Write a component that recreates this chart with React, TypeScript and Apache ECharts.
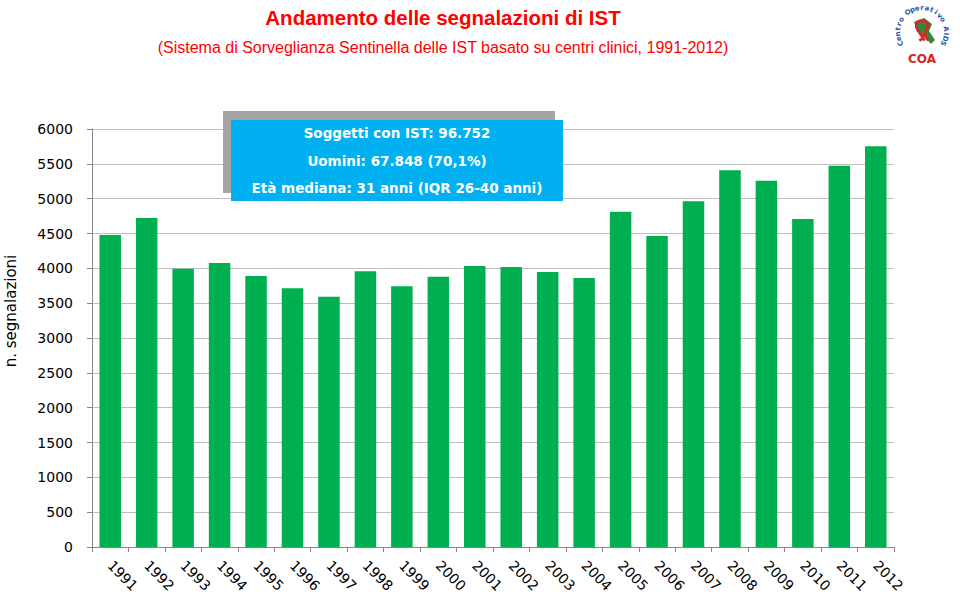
import React, { useEffect, useRef } from "react";
import * as echarts from "echarts";

const years = ["1991","1992","1993","1994","1995","1996","1997","1998","1999","2000","2001","2002","2003","2004","2005","2006","2007","2008","2009","2010","2011","2012"];
const reports = [4480, 4722, 3995, 4076, 3890, 3713, 3593, 3957, 3742, 3880, 4033, 4019, 3947, 3861, 4813, 4464, 4962, 5407, 5258, 4708, 5473, 5751];
const yTicks = { min: 0, max: 6000, interval: 500 };
const titleText = "Andamento delle segnalazioni di IST";
const subtitleText = "(Sistema di Sorveglianza Sentinella delle IST basato su centri clinici, 1991-2012)";
const boxLines = ["Soggetti con IST: 96.752", "Uomini: 67.848 (70,1%)", "Età mediana: 31 anni (IQR 26-40 anni)"];
const yAxisName = "n. segnalazioni";
const logoArcText = "Centro Operativo AIDS";

const FONT = "'Comic Sans MS', 'DejaVu Sans', sans-serif";

echarts.graphic.registerShape(
  "ribbon",
  echarts.graphic.extendPath(
    "M10 22 L15 12 C18 7 16 2 12 2 C10 2 10 4 10 4 C10 4 10 2 8 2 C4 2 2 7 5 12 L13 24 M10 22 L7 24 M12 16 L17 24",
    {}
  )
);

function arcChars() {
  const cx = 922, cy = 32, r = 24;
  const start = 208, end = -28;
  const n = logoArcText.length;
  const els: any[] = [];
  for (let i = 0; i < n; i++) {
    const th = start + ((end - start) * i) / (n - 1);
    const rad = (th * Math.PI) / 180;
    els.push({
      type: "text",
      x: cx + r * Math.cos(rad),
      y: cy - r * Math.sin(rad),
      rotation: ((th - 90) * Math.PI) / 180,
      style: {
        text: logoArcText[i],
        fill: "#2a5aa6",
        font: "bold 7px 'DejaVu Sans', sans-serif",
        textAlign: "center",
        textVerticalAlign: "middle",
      },
      silent: true,
    });
  }
  return els;
}

export default function App() {
  const ref = useRef<HTMLDivElement>(null);
  useEffect(() => {
    if (!ref.current) return;
    const chart = echarts.init(ref.current, null, { renderer: "svg" });
    chart.setOption({
      animation: false,
      backgroundColor: "#ffffff",
      grid: { left: 92, right: 66, top: 129, bottom: 49, containLabel: false },
      xAxis: {
        type: "category",
        data: years,
        axisLine: { show: true, lineStyle: { color: "#868686", width: 1 } },
        axisTick: { show: true, length: 5, alignWithLabel: false, lineStyle: { color: "#868686" } },
        axisLabel: {
          interval: 0,
          rotate: -45,
          margin: 16,
          color: "#000",
          fontSize: 14,
          fontFamily: FONT,
        },
      },
      yAxis: {
        type: "value",
        min: yTicks.min,
        max: yTicks.max,
        interval: yTicks.interval,
        axisLine: { show: true, lineStyle: { color: "#868686", width: 1 } },
        axisTick: { show: true, length: 5, lineStyle: { color: "#868686" } },
        axisLabel: {
          color: "#000",
          fontSize: 14,
          margin: 19,
          fontFamily: FONT,
          formatter: (v: number) => String(v),
        },
        splitLine: { show: true, lineStyle: { color: "#bfbfbf", width: 1 } },
      },
      series: [
        {
          type: "bar",
          data: reports,
          barWidth: "59%",
          itemStyle: { color: "#00b050" },
        },
      ],
      graphic: [
        {
          type: "text",
          x: 443,
          y: 17,
          style: {
            text: titleText,
            fill: "#ff0000",
            font: "bold 20.5px 'Liberation Sans', sans-serif",
            textAlign: "center",
            textVerticalAlign: "middle",
          },
        },
        {
          type: "text",
          x: 443,
          y: 47,
          style: {
            text: subtitleText,
            fill: "#ff0000",
            font: "16px 'Liberation Sans', sans-serif",
            textAlign: "center",
            textVerticalAlign: "middle",
          },
        },
        {
          type: "text",
          x: 11,
          y: 311,
          rotation: Math.PI / 2,
          style: {
            text: yAxisName,
            fill: "#000",
            font: "15px 'DejaVu Sans', sans-serif",
            textAlign: "center",
            textVerticalAlign: "middle",
          },
        },
        {
          type: "rect",
          shape: { x: 223, y: 111, width: 332, height: 82 },
          style: { fill: "#a5a5a5" },
          z: 10,
        },
        {
          type: "rect",
          shape: { x: 231, y: 120, width: 332, height: 81 },
          style: { fill: "#00b0f0" },
          z: 11,
        },
        ...boxLines.map((t, i) => ({
          type: "text",
          x: 397,
          y: 133 + i * 27.5,
          z: 12,
          style: {
            text: t,
            fill: "#ffffff",
            font: "bold 13.5px 'DejaVu Sans', sans-serif",
            textAlign: "center",
            textVerticalAlign: "middle",
          },
        })),
        {
          type: "polygon",
          shape: {
            points: [[914, 22], [924, 18], [932, 24], [929, 31], [935, 40], [931, 44], [924, 36], [917, 31]],
          },
          style: { fill: "#2e8b3e" },
        },
        {
          type: "ribbon",
          x: 913,
          y: 19,
          scaleX: 0.9,
          scaleY: 0.9,
          style: { fill: "none", stroke: "#d8262a", lineWidth: 3 },
        },
        ...arcChars(),
        {
          type: "text",
          x: 922,
          y: 59,
          style: {
            text: "COA",
            fill: "#d9261c",
            font: "bold 12px 'DejaVu Sans', sans-serif",
            textAlign: "center",
            textVerticalAlign: "middle",
          },
        },
      ],
    });
    return () => chart.dispose();
  }, []);
  return (
    <div
      ref={ref}
      style={{ position: "fixed", left: 0, top: 0, width: 960, height: 596 }}
    />
  );
}
